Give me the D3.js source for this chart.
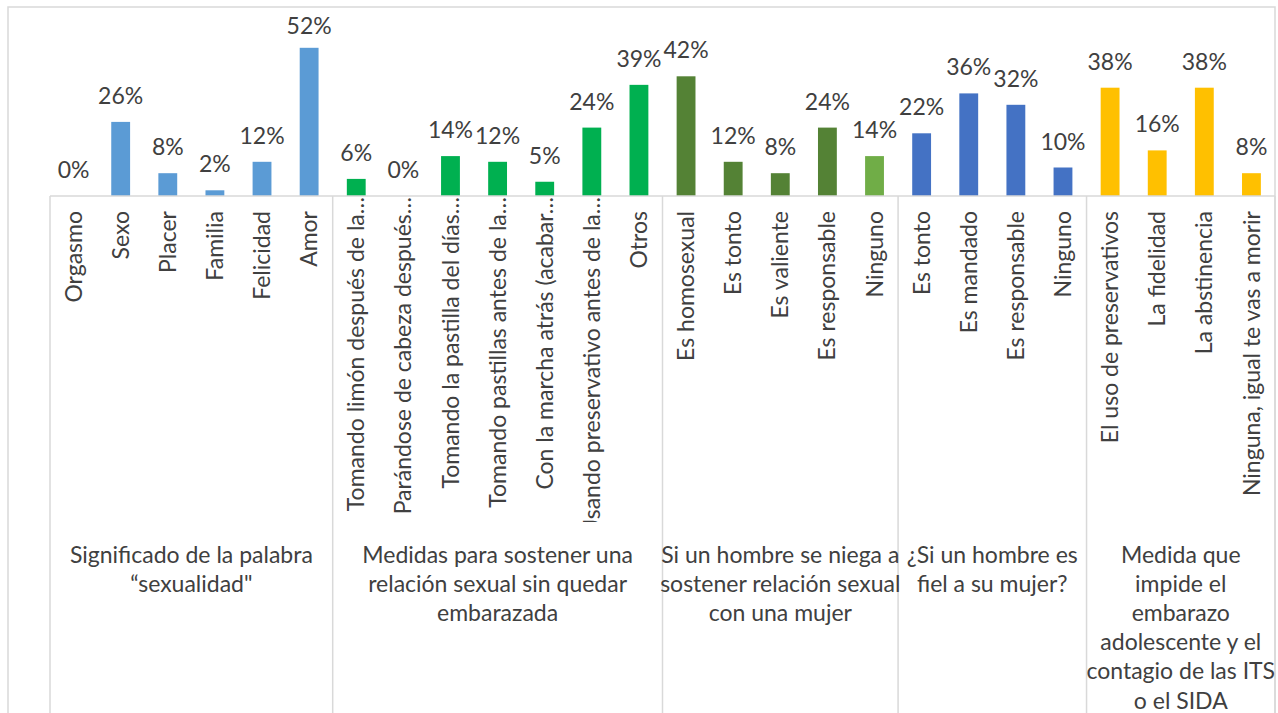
<!DOCTYPE html>
<html lang="es">
    <head>
        <meta charset="utf-8">
        <script type="text/javascript" src="https://cdn.jsdelivr.net/npm/d3@7"></script>
        <title>Sexualidad</title>
        <style>
          body { margin: 0; background: #fff; }
          text { font-family: Lato, "Open Sans", sans-serif; fill: #404040; }
        </style>
    </head>
    <body>
        <script type="text/javascript">
          // category names, in order
          var categories = [
            "Orgasmo", "Sexo", "Placer", "Familia", "Felicidad", "Amor",
            "Tomando limón después de la…", "Parándose de cabeza después…",
            "Tomando la pastilla del días…", "Tomando pastillas antes de la…",
            "Con la marcha atrás (acabar…", "Usando preservativo antes de la…", "Otros",
            "Es homosexual", "Es tonto", "Es valiente", "Es responsable", "Ninguno",
            "Es tonto", "Es mandado", "Es responsable", "Ninguno",
            "El uso de preservativos", "La fidelidad", "La abstinencia", "Ninguna, igual te vas a morir"
          ];
          // values (share of answers)
          var values = [
            0, 0.26, 0.08, 0.02, 0.12, 0.52,
            0.06, 0, 0.14, 0.12, 0.05, 0.24, 0.39,
            0.42, 0.12, 0.08, 0.24, 0.14,
            0.22, 0.36, 0.32, 0.10,
            0.38, 0.16, 0.38, 0.08
          ];
          // question groups: number of categories in each and its label lines
          var groupSizes = [6, 7, 5, 4, 4];
          var groupLabels = [
            ["Significado de la palabra", "“sexualidad\""],
            ["Medidas para sostener una", "relación sexual sin quedar", "embarazada"],
            ["Si un hombre se niega a", "sostener relación sexual", "con una mujer"],
            ["¿Si un hombre es", "fiel a su mujer?"],
            ["Medida que", "impide el", "embarazo", "adolescente y el", "contagio de las ITS", "o el SIDA"]
          ];

          // colours per bar
          var barColors = [
            "#5B9BD5", "#5B9BD5", "#5B9BD5", "#5B9BD5", "#5B9BD5", "#5B9BD5",
            "#00B050", "#00B050", "#00B050", "#00B050", "#00B050", "#00B050", "#00B050",
            "#548235", "#548235", "#548235", "#548235", "#70AD47",
            "#4472C4", "#4472C4", "#4472C4", "#4472C4",
            "#FFC000", "#FFC000", "#FFC000", "#FFC000"
          ];

          var w = 1278;
          var h = 713;
          var grid = "#D9D9D9";
          var axisY = 196;
          var left = 50, right = 1275;

          var svg = d3.select("body").append("svg")
                      .attr("width", w)
                      .attr("height", h);

          var xscale = d3.scaleBand()
            .domain(d3.range(categories.length))
            .range([left, right])
            .paddingInner(0.6)
            .paddingOuter(0.3);
          var step = xscale.step();
          var yscale = d3.scaleLinear()
            .domain([0, 0.6])
            .range([axisY, 25]);

          // chart border
          svg.append("rect")
            .attr("x", 8).attr("y", 7)
            .attr("width", right - 8).attr("height", 800)
            .attr("fill", "none")
            .attr("stroke", grid)
            .attr("stroke-width", 1.5);

          // bars
          svg.selectAll("rect.bar")
            .data(values)
            .enter()
            .append("rect")
            .attr("class", "bar")
            .attr("x", function(d, i) { return xscale(i); })
            .attr("y", function(d) { return yscale(d); })
            .attr("width", xscale.bandwidth())
            .attr("height", function(d) { return axisY - yscale(d); })
            .attr("fill", function(d, i) { return barColors[i]; });

          // value labels
          svg.selectAll("text.val")
            .data(values)
            .enter()
            .append("text")
            .attr("class", "val")
            .attr("x", function(d, i) { return xscale(i) + xscale.bandwidth() / 2; })
            .attr("y", function(d) { return Math.max(yscale(d) - 18, 34); })
            .attr("text-anchor", "middle")
            .style("font-size", "23px")
            .text(function(d) { return Math.round(d * 100) + "%"; });

          // axis line
          svg.append("line")
            .attr("x1", left).attr("x2", right)
            .attr("y1", axisY).attr("y2", axisY)
            .attr("stroke", grid).attr("stroke-width", 1.5);

          // group boundaries
          var starts = [0];
          groupSizes.forEach(function(n, i) { starts.push(starts[i] + n); });
          var edge = function(i) {
            return i < categories.length ? xscale(i) - step * 0.3 : right;
          };
          svg.selectAll("line.sep")
            .data(starts)
            .enter()
            .append("line")
            .attr("class", "sep")
            .attr("x1", function(d) { return edge(d); })
            .attr("x2", function(d) { return edge(d); })
            .attr("y1", axisY).attr("y2", h)
            .attr("stroke", grid).attr("stroke-width", 1.5);

          // rotated category labels, clipped like the original
          // (truncated ones run right up to the axis)
          svg.append("clipPath").attr("id", "catclip")
            .append("rect")
            .attr("x", 0).attr("y", axisY)
            .attr("width", w).attr("height", 326);
          svg.append("g")
            .attr("clip-path", "url(#catclip)")
            .selectAll("text")
            .data(categories)
            .enter()
            .append("text")
            .attr("transform", function(d, i) {
              var top = d.slice(-1) === "…" ? axisY + 1 : axisY + 15;
              return "translate(" + [xscale(i) + xscale.bandwidth() / 2, top] + ") rotate(-90)";
            })
            .attr("dy", "0.35em")
            .attr("text-anchor", "end")
            .style("font-size", "23px")
            .text(function(d) { return d; });

          // group labels
          var groupG = svg.selectAll("g.grp")
            .data(groupLabels)
            .enter()
            .append("g")
            .attr("class", "grp")
            .attr("transform", function(d, i) {
              return "translate(" + [(edge(starts[i]) + edge(starts[i + 1])) / 2, 563] + ")";
            });
          groupG.selectAll("text")
            .data(function(d) { return d; })
            .enter()
            .append("text")
            .attr("y", function(d, i) { return i * 29.1; })
            .attr("text-anchor", "middle")
            .style("font-size", "23px")
            .text(function(d) { return d; });
        </script>
    </body>
</html>
